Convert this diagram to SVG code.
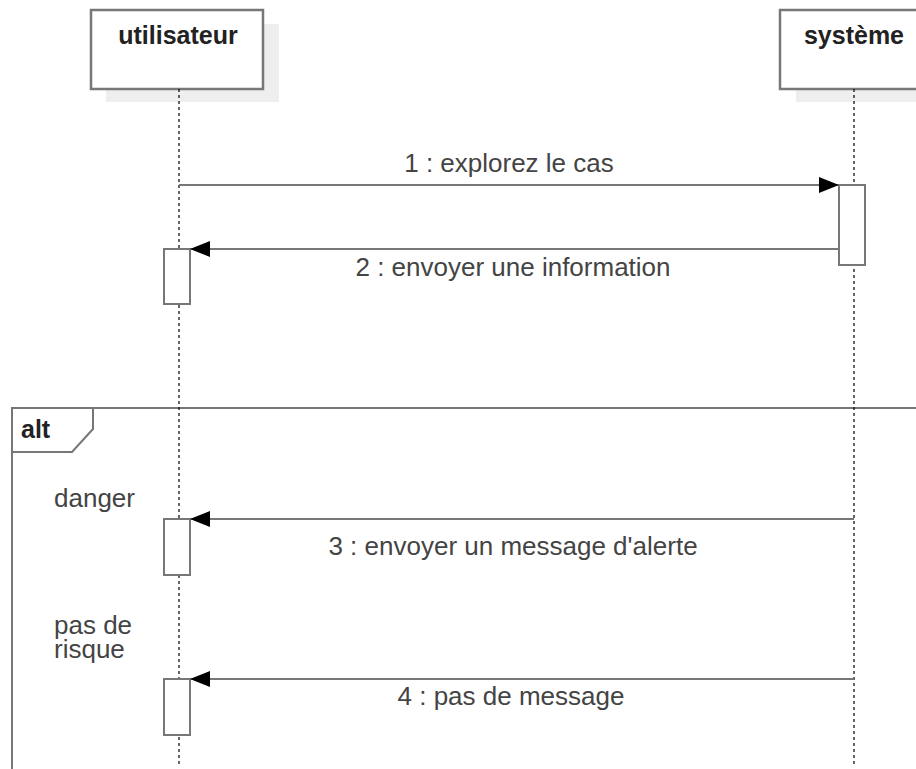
<svg xmlns="http://www.w3.org/2000/svg" width="916" height="769" viewBox="0 0 916 769">
  <style>
    .shadow { fill: #eeeeee; }
    .box { fill: #ffffff; stroke: #777777; stroke-width: 2.5; }
    .act { fill: #ffffff; stroke: #777777; stroke-width: 2; }
    .life { stroke: #000000; stroke-width: 1.2; stroke-dasharray: 3 3; fill: none; }
    .msg { stroke: #777777; stroke-width: 2; fill: none; marker-end: url(#arrow); }
    .frame { stroke: #777777; stroke-width: 2; fill: none; }
    .title { font-family: "Liberation Sans", Arial, sans-serif; font-size: 25px; font-weight: bold; fill: #222222; text-anchor: middle; }
    .label { font-family: "Liberation Sans", Arial, sans-serif; font-size: 26px; fill: #444444; text-anchor: middle; }
    .guard { font-family: "Liberation Sans", Arial, sans-serif; font-size: 26px; fill: #444444; }
    .tag { font-family: "Liberation Sans", Arial, sans-serif; font-size: 25px; font-weight: bold; fill: #222222; }
  </style>
  <defs>
    <marker id="arrow" markerUnits="userSpaceOnUse" markerWidth="20" markerHeight="16" refX="20" refY="8" orient="auto">
      <path d="M0,0 L20,8 L0,16 Z" fill="#000000"/>
    </marker>
  </defs>
  <rect width="916" height="769" fill="#ffffff"/>

  <!-- alt combined fragment -->
  <g id="alt-frame">
    <path class="frame" d="M12,769 L12,408 L916,408"/>
    <path class="frame" d="M12,452 L72,452 L93,429 L93,408"/>
    <text class="tag" x="21" y="438">alt</text>
    <text class="guard" x="54" y="507">danger</text>
    <text class="guard" x="54" y="634">pas de</text>
    <text class="guard" x="54" y="658">risque</text>
  </g>

  <!-- lifeline: utilisateur -->
  <g id="utilisateur">
    <rect class="shadow" x="106" y="24" width="173" height="78"/>
    <rect class="box" x="91" y="10" width="172" height="79"/>
    <text class="title" x="178" y="44">utilisateur</text>
    <line class="life" x1="179" y1="89" x2="179" y2="765"/>
    <rect class="act" x="164" y="249" width="26" height="55"/>
    <rect class="act" x="164" y="519" width="26" height="56"/>
    <rect class="act" x="164" y="679" width="26" height="56"/>
  </g>

  <!-- lifeline: système -->
  <g id="systeme">
    <rect class="shadow" x="796" y="24" width="173" height="78"/>
    <rect class="box" x="780" y="10" width="172" height="79"/>
    <text class="title" x="854" y="44">système</text>
    <line class="life" x1="854" y1="89" x2="854" y2="765"/>
    <rect class="act" x="839" y="185" width="26" height="80"/>
  </g>

  <!-- messages -->
  <g id="connectors">
    <line class="msg" x1="179" y1="185" x2="839" y2="185"/>
    <text class="label" x="509" y="172">1 : explorez le cas</text>
    <line class="msg" x1="839" y1="249" x2="190" y2="249"/>
    <text class="label" x="513" y="276">2 : envoyer une information</text>
    <line class="msg" x1="854" y1="519" x2="190" y2="519"/>
    <text class="label" x="513" y="555">3 : envoyer un message d'alerte</text>
    <line class="msg" x1="854" y1="679" x2="190" y2="679"/>
    <text class="label" x="511" y="705">4 : pas de message</text>
  </g>
</svg>
